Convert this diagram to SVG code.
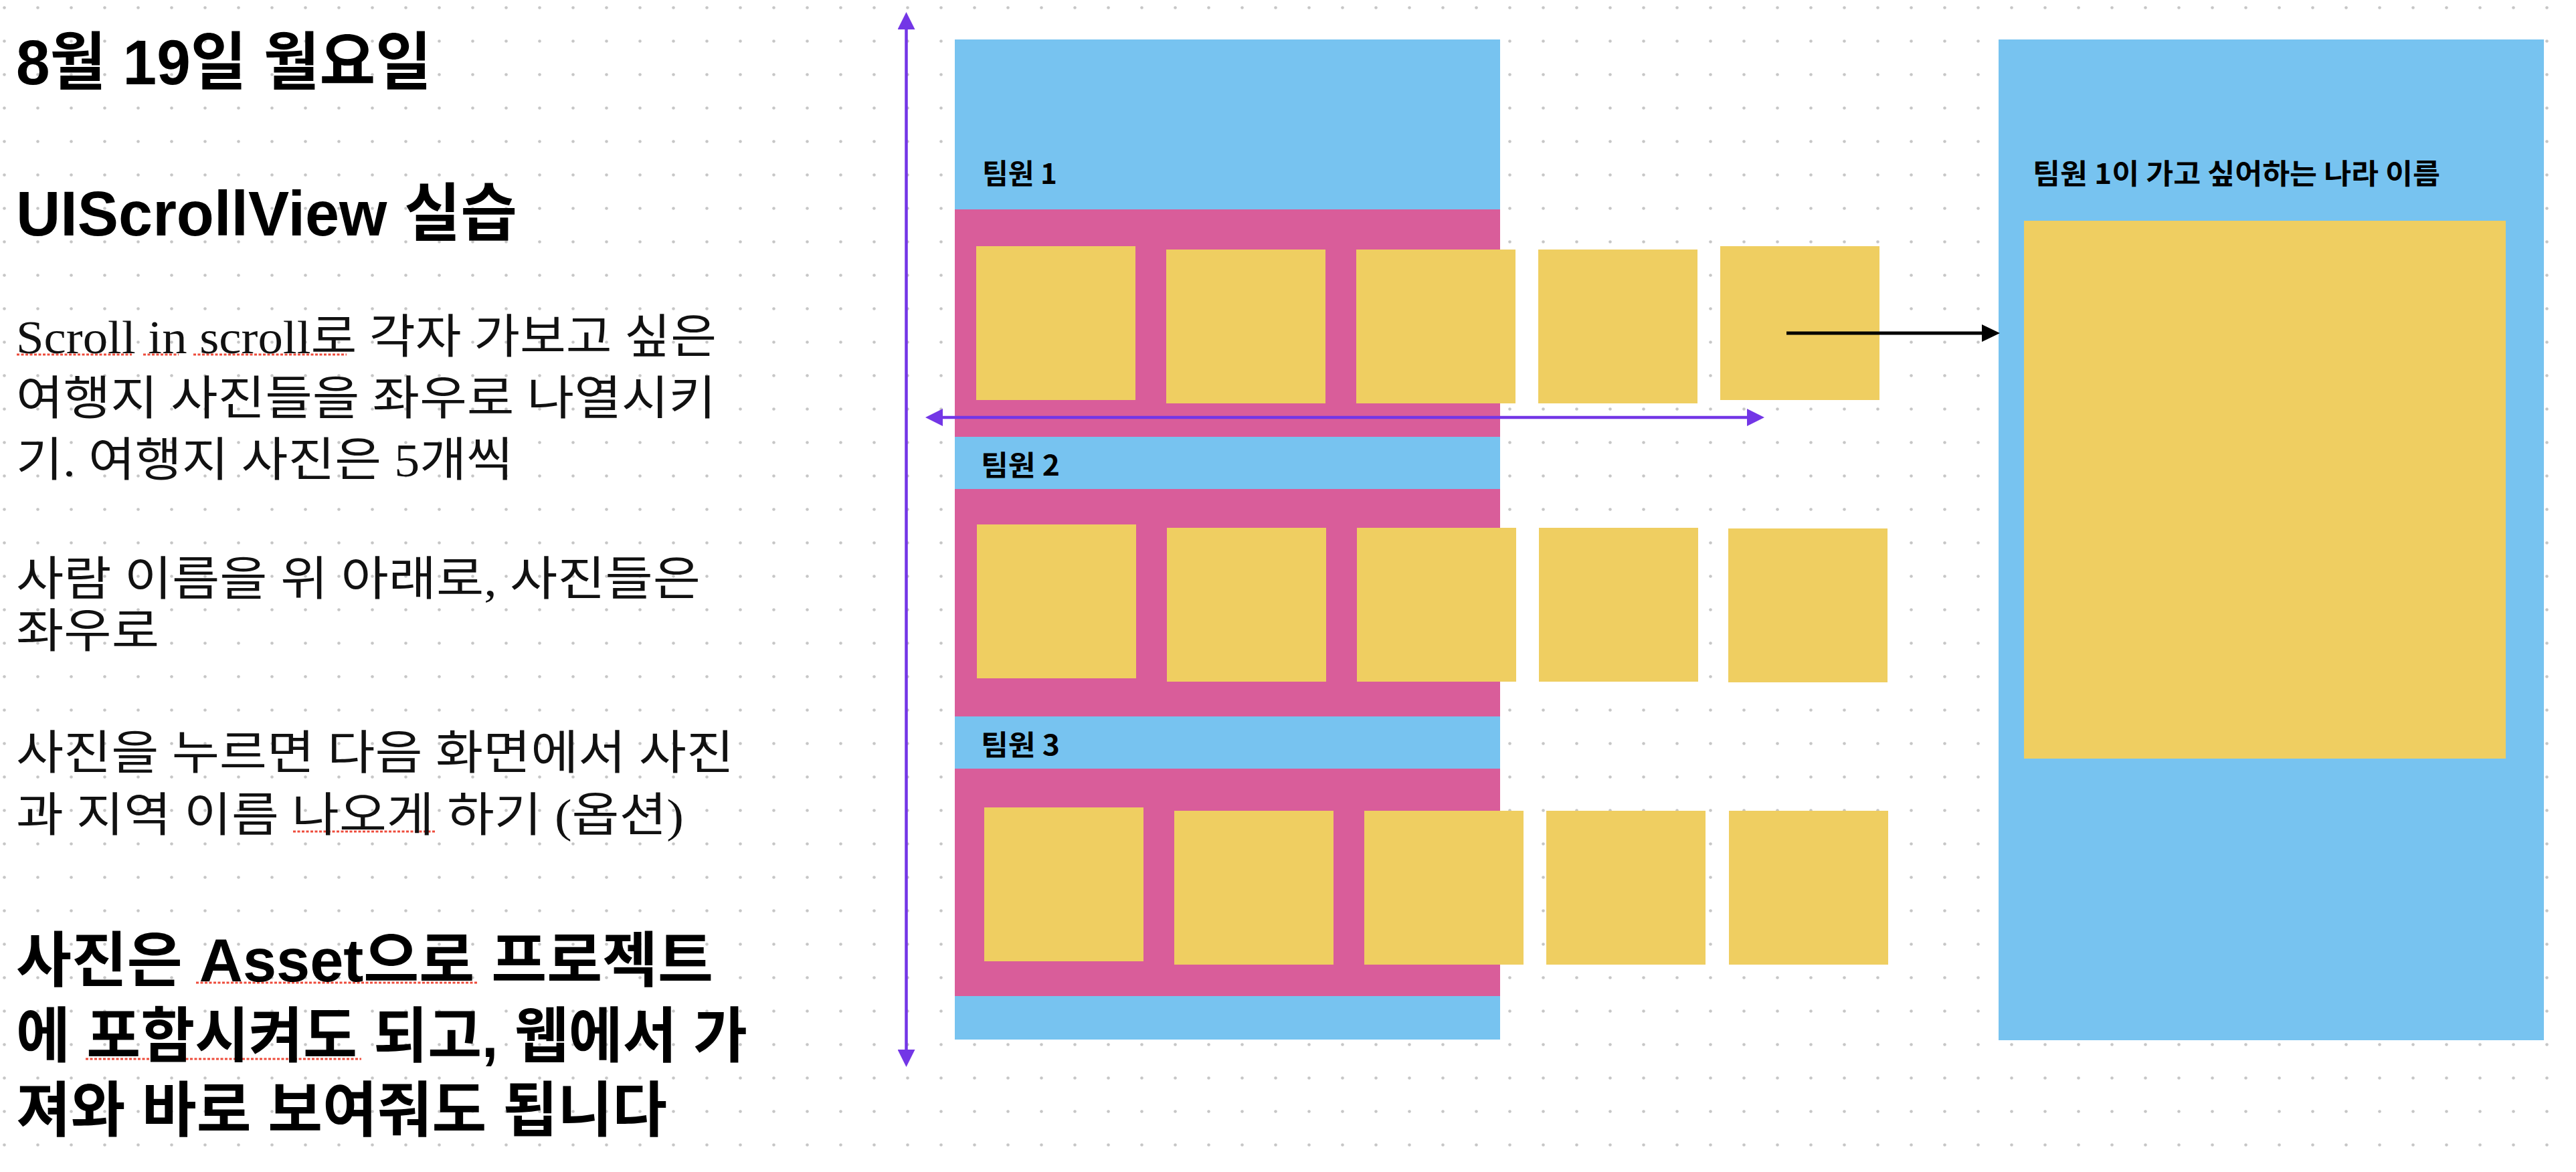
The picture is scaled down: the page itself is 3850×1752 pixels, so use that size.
<svg xmlns="http://www.w3.org/2000/svg" width="3850" height="1752" viewBox="0 0 3850 1752">
  <style>
    .h { font-family: "Liberation Sans", "Noto Sans CJK KR", sans-serif; font-weight: 700; fill: #000; }
    .p { font-family: "Liberation Serif", "Noto Sans CJK KR", serif; font-size: 70px; fill: #111; }
    .lbl { font-family: "Noto Sans CJK KR", "Liberation Sans", sans-serif; font-weight: 700; font-size: 42px; fill: #000; }
    .blue { fill: #77C3F0; }
    .pink { fill: #D95D9A; }
    .photo { fill: #EFCE61; }
    .sq { stroke: #EE4B3B; stroke-width: 3; stroke-dasharray: 4 2.5; fill: none; }
    .conn-p { stroke: #7336E6; stroke-width: 4.5; fill: none; }
    .conn-k { stroke: #000; stroke-width: 5; fill: none; }
  </style>
  <defs>
    <pattern id="dots" x="0" y="0" width="50" height="50" patternUnits="userSpaceOnUse">
      <circle cx="6.5" cy="11.5" r="2.3" fill="#c6c6c6"/>
    </pattern>
    <marker id="ah-p" markerUnits="userSpaceOnUse" markerWidth="26" markerHeight="26" refX="6" refY="13" orient="auto-start-reverse">
      <path d="M0,0 L26,13 L0,26 z" fill="#7336E6"/>
    </marker>
    <marker id="ah-k" markerUnits="userSpaceOnUse" markerWidth="27" markerHeight="26" refX="7" refY="13" orient="auto">
      <path d="M0,0 L27,13 L0,26 z" fill="#000"/>
    </marker>
  </defs>

  <rect x="0" y="0" width="3850" height="1752" fill="#fff"/>
  <rect x="0" y="0" width="3850" height="1752" fill="url(#dots)"/>

  <!-- Notes text -->
  <g id="notes">
    <g id="spellcheck-underlines">
      <line class="sq" x1="25" y1="530" x2="197" y2="530"/>
      <line class="sq" x1="214" y1="530" x2="267" y2="530"/>
      <line class="sq" x1="289" y1="530" x2="518" y2="530"/>
      <line class="sq" x1="438" y1="1243" x2="651" y2="1243"/>
      <line class="sq" x1="293" y1="1469" x2="714" y2="1469"/>
      <line class="sq" x1="128" y1="1583" x2="540" y2="1583"/>
    </g>
    <text class="h" x="24" y="126" font-size="94" textLength="621" lengthAdjust="spacingAndGlyphs">8월 19일 월요일</text>
    <text class="h" x="24" y="352" font-size="94" textLength="749" lengthAdjust="spacingAndGlyphs">UIScrollView 실습</text>

    <text class="p" x="24" y="528" textLength="1047" lengthAdjust="spacingAndGlyphs">Scroll in scroll로 각자 가보고 싶은</text>
    <text class="p" x="24" y="620" textLength="1046" lengthAdjust="spacingAndGlyphs">여행지 사진들을 좌우로 나열시키</text>
    <text class="p" x="24" y="712" textLength="743" lengthAdjust="spacingAndGlyphs">기. 여행지 사진은 5개씩</text>

    <text class="p" x="24" y="890" textLength="1023" lengthAdjust="spacingAndGlyphs">사람 이름을 위 아래로, 사진들은</text>
    <text class="p" x="24" y="968" textLength="214" lengthAdjust="spacingAndGlyphs">좌우로</text>

    <text class="p" x="24" y="1150" textLength="1073" lengthAdjust="spacingAndGlyphs">사진을 누르면 다음 화면에서 사진</text>
    <text class="p" x="24" y="1243" textLength="998" lengthAdjust="spacingAndGlyphs">과 지역 이름 나오게 하기 (옵션)</text>

    <text class="h" x="24" y="1467" font-size="90" textLength="1042" lengthAdjust="spacingAndGlyphs">사진은 Asset으로 프로젝트</text>
    <text class="h" x="24" y="1580" font-size="90" textLength="1093" lengthAdjust="spacingAndGlyphs">에 포함시켜도 되고, 웹에서 가</text>
    <text class="h" x="24" y="1691" font-size="90" textLength="973" lengthAdjust="spacingAndGlyphs">져와 바로 보여줘도 됩니다</text>
  </g>

  <!-- Vertical scroll view (left screen) -->
  <g id="main-scroll">
    <rect class="blue" x="1427" y="59" width="815" height="1495"/>
  </g>

  <g id="member-1">
    <text class="lbl" x="1468" y="275" textLength="112" lengthAdjust="spacingAndGlyphs">팀원 1</text>
    <rect class="pink" x="1427" y="313" width="815" height="340"/>
    <rect class="photo" x="1459" y="368" width="238" height="230"/>
    <rect class="photo" x="1743" y="373" width="238" height="230"/>
    <rect class="photo" x="2027" y="373" width="238" height="230"/>
    <rect class="photo" x="2299" y="373" width="238" height="230"/>
    <rect class="photo" x="2571" y="368" width="238" height="230"/>
  </g>

  <g id="member-2">
    <text class="lbl" x="1466" y="711" textLength="118" lengthAdjust="spacingAndGlyphs">팀원 2</text>
    <rect class="pink" x="1427" y="731" width="815" height="340"/>
    <rect class="photo" x="1460" y="784" width="238" height="230"/>
    <rect class="photo" x="1744" y="789" width="238" height="230"/>
    <rect class="photo" x="2028" y="789" width="238" height="230"/>
    <rect class="photo" x="2300" y="789" width="238" height="230"/>
    <rect class="photo" x="2583" y="790" width="238" height="230"/>
  </g>

  <g id="member-3">
    <text class="lbl" x="1466" y="1129" textLength="118" lengthAdjust="spacingAndGlyphs">팀원 3</text>
    <rect class="pink" x="1427" y="1149" width="815" height="340"/>
    <rect class="photo" x="1471" y="1207" width="238" height="230"/>
    <rect class="photo" x="1755" y="1212" width="238" height="230"/>
    <rect class="photo" x="2039" y="1212" width="238" height="230"/>
    <rect class="photo" x="2311" y="1212" width="238" height="230"/>
    <rect class="photo" x="2584" y="1212" width="238" height="230"/>
  </g>

  <!-- Detail screen (right) -->
  <g id="detail-screen">
    <rect class="blue" x="2987" y="59" width="815" height="1496"/>
    <text class="lbl" x="3038" y="275" textLength="609" lengthAdjust="spacingAndGlyphs">팀원 1이 가고 싶어하는 나라 이름</text>
    <rect class="photo" x="3025" y="330" width="720" height="804"/>
  </g>

  <g id="connectors">
    <line class="conn-p" x1="1354.5" y1="38" x2="1354.5" y2="1575" marker-start="url(#ah-p)" marker-end="url(#ah-p)"/>
    <line class="conn-p" x1="1403" y1="624" x2="2617" y2="624" marker-start="url(#ah-p)" marker-end="url(#ah-p)"/>
    <line class="conn-k" x1="2670" y1="498" x2="2969" y2="498" marker-end="url(#ah-k)"/>
  </g>
</svg>
